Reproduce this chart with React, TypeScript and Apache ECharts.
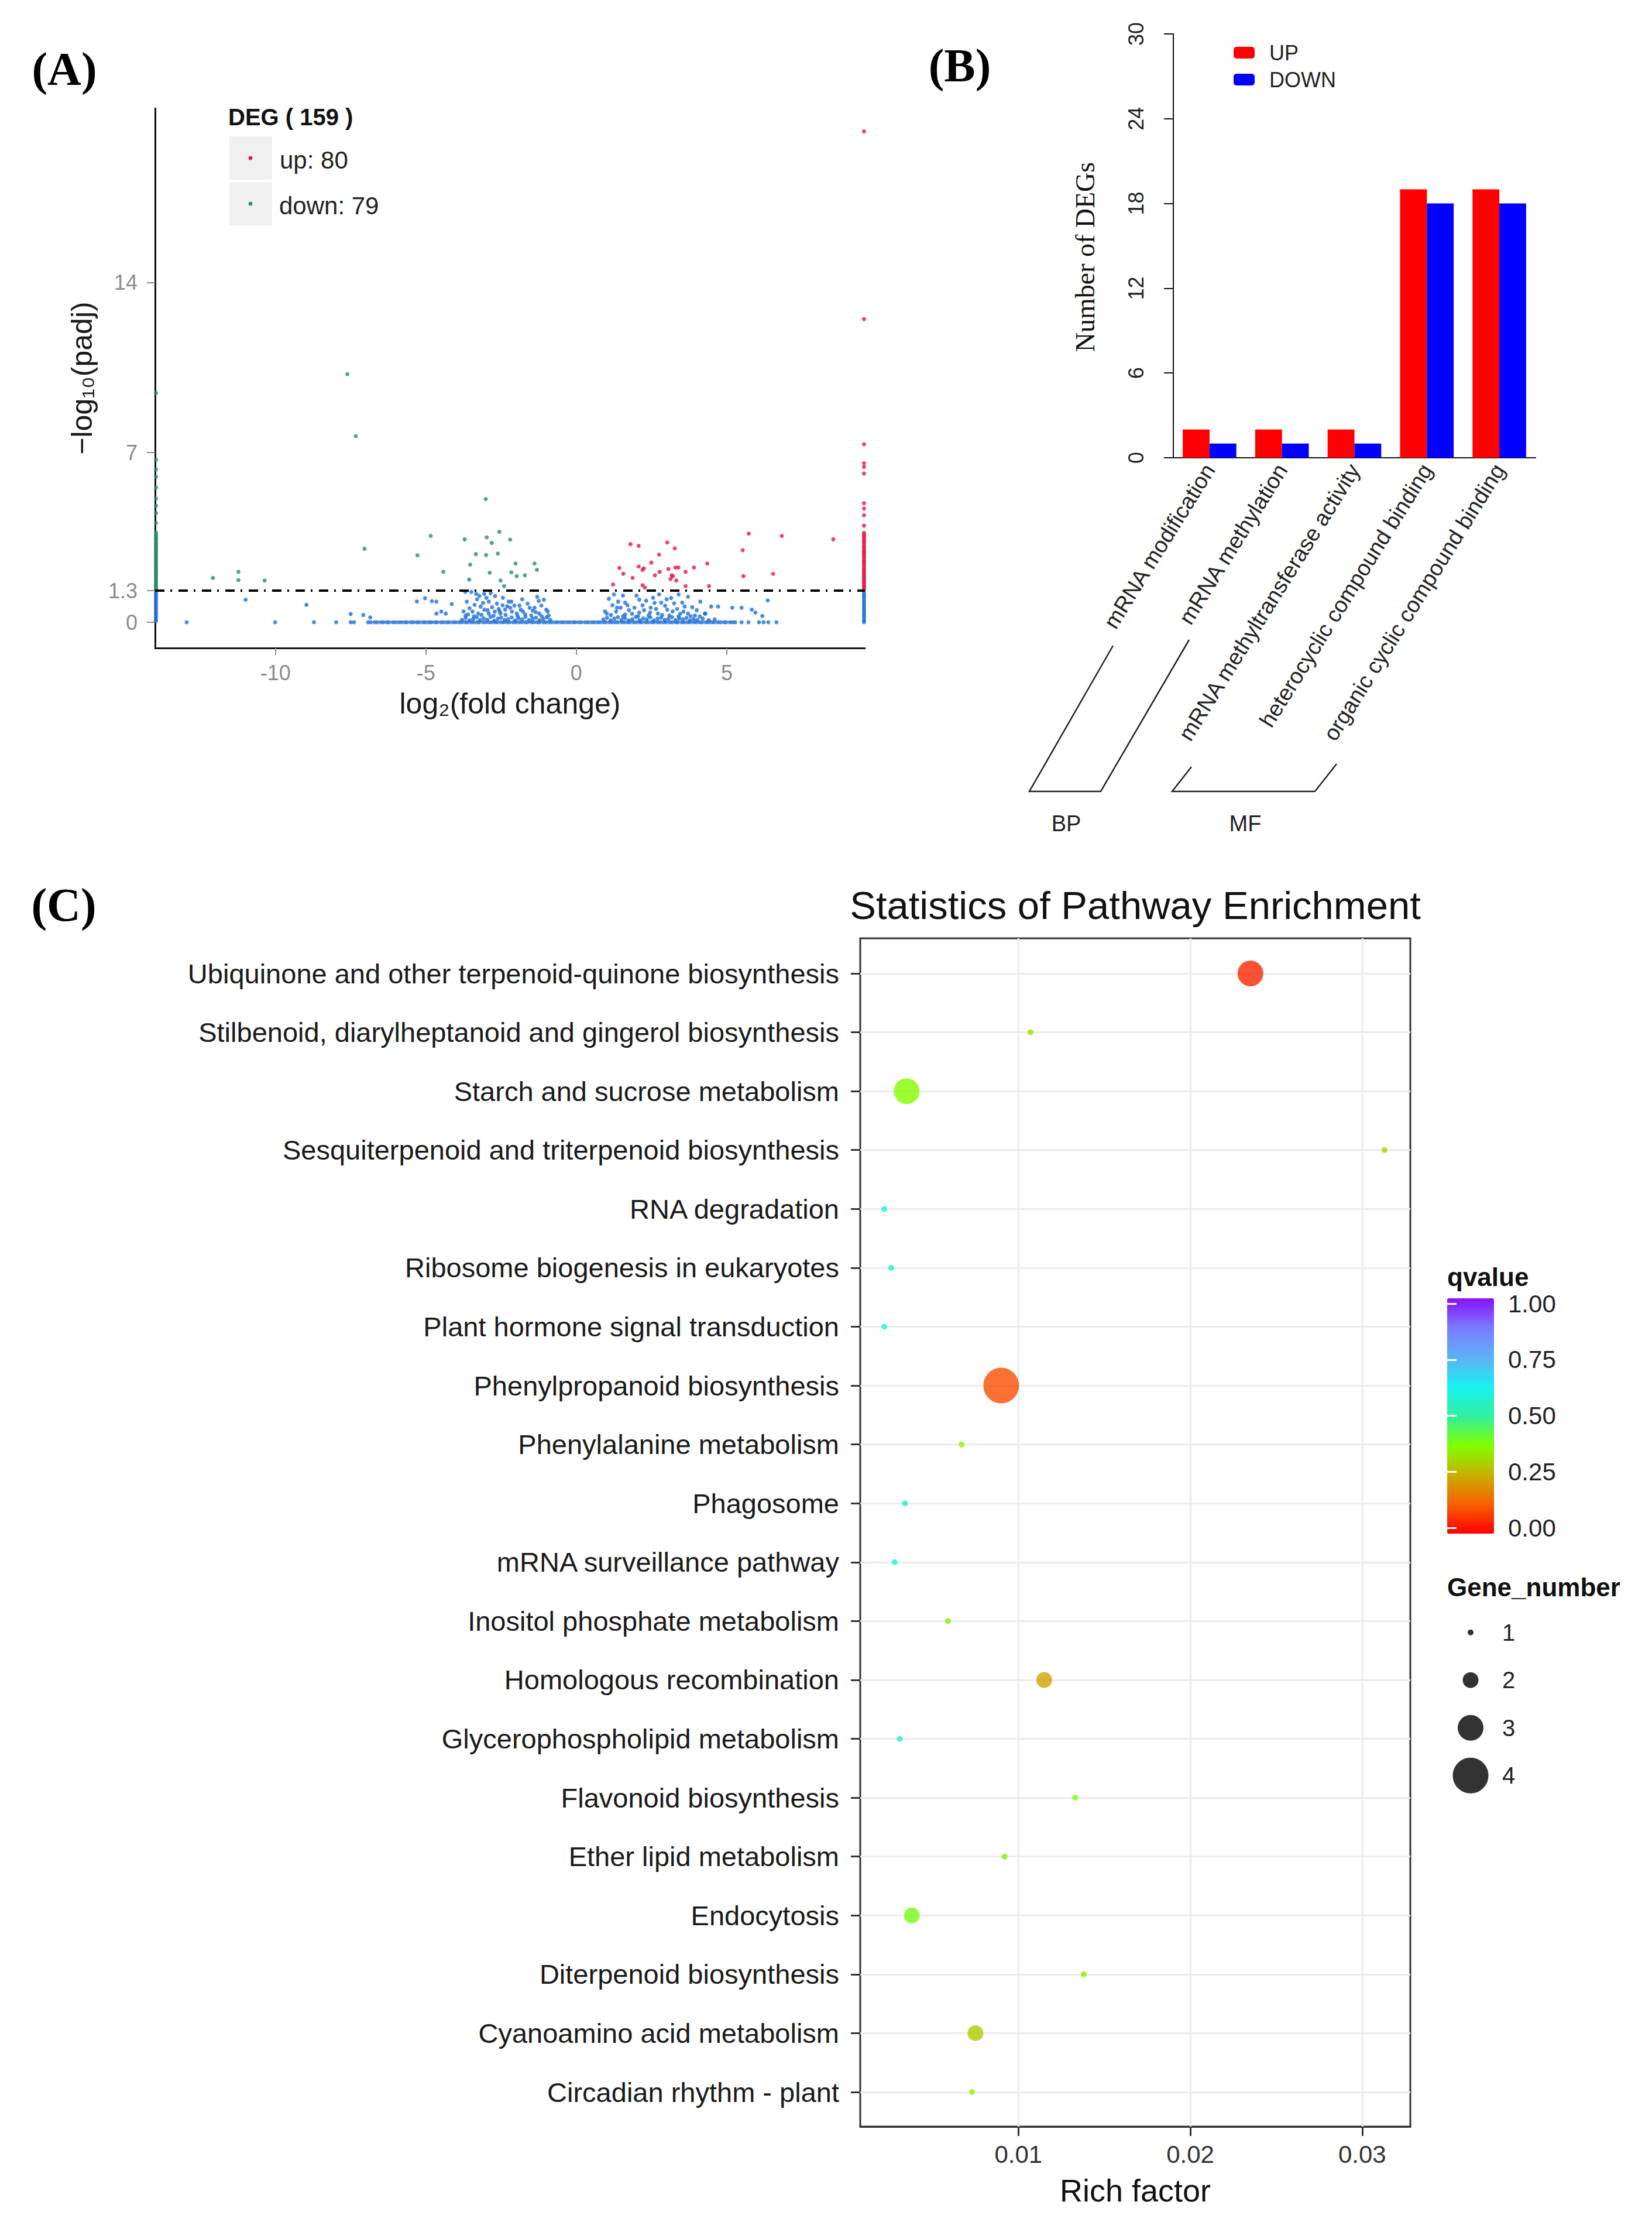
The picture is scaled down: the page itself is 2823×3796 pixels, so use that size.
import React, { useEffect, useRef } from "react";
import * as echarts from "echarts";

const SANS = "'Liberation Sans', Arial, sans-serif";
const SERIF = "'Liberation Serif', 'Times New Roman', serif";

// ---------------- Panel A: volcano plot ----------------
const FC_TICKS = [-10, -5, 0, 5];
const PADJ_TICKS = [0, 1.3, 7, 14];
const PADJ_THRESHOLD = 1.3;
const FC_NEG_INF = -13.97; // genes with -Inf fold change, drawn at the panel edge
const FC_POS_INF = 9.56; // genes with +Inf fold change, drawn at the panel edge

const UP_PTS: number[][] = [
  [1.8, 3.22], [2.07, 3.15], [3.02, 3.29], [3.27, 3.05], [2.75, 2.79], [2.49, 2.46], [1.43, 2.24], [1.56, 2.0],
  [1.87, 1.83], [2.07, 2.3], [2.2, 2.16], [2.24, 2.22], [2.61, 1.94], [2.77, 2.08], [3.06, 2.2], [3.29, 2.26],
  [3.39, 2.26], [3.63, 2.08], [3.91, 2.26], [4.35, 2.42], [3.17, 1.94], [3.13, 1.78], [3.32, 1.72], [3.21, 1.9],
  [1.22, 1.56], [2.2, 1.53], [2.28, 1.43], [3.63, 1.49], [4.41, 1.49], [5.53, 2.97], [5.73, 3.66], [6.83, 3.56],
  [8.54, 3.42], [5.55, 1.9], [6.54, 2.0],
];
const UP_INF_Y = [
  20.24, 12.5, 7.34, 6.56, 6.41, 6.13, 4.91, 4.69, 4.41, 3.98,
  3.69, 3.62, 3.55, 3.49, 3.4, 3.33, 3.27, 3.18, 3.11, 3.05, 2.97, 2.9, 2.84, 2.76, 2.7, 2.63, 2.55, 2.49,
  2.42, 2.36, 2.28, 2.21, 2.15, 2.08, 2.01, 1.95, 1.88, 1.82, 1.75, 1.68, 1.62, 1.55, 1.49, 1.42, 1.36,
];
const DOWN_PTS: number[][] = [
  [-7.61, 10.23], [-7.33, 7.67], [-3.01, 5.08], [-7.04, 3.03], [-4.84, 3.56], [-5.28, 2.76], [-3.71, 3.42],
  [-2.98, 3.5], [-2.56, 3.73], [-2.81, 3.27], [-2.2, 3.41], [-3.34, 2.81], [-3.0, 2.77], [-2.61, 2.83],
  [-3.53, 2.38], [-2.02, 2.42], [-4.42, 2.08], [-2.88, 2.04], [-2.16, 2.06], [-3.56, 1.76], [-2.52, 1.72],
  [-1.98, 1.9], [-12.08, 1.83], [-11.23, 2.08], [-11.23, 1.74], [-10.36, 1.72], [-2.4, 1.49], [-1.39, 2.42],
  [-1.31, 2.16], [-1.71, 1.94],
];
const DOWN_INF_Y = [
  9.45, 6.7, 6.3, 6.0, 5.55, 5.1, 4.8, 4.5, 4.1, 3.7,
  3.62, 3.56, 3.5, 3.44, 3.38, 3.31, 3.25, 3.19, 3.13, 3.07, 3.01, 2.95, 2.89, 2.83, 2.77, 2.71, 2.65, 2.59,
  2.53, 2.47, 2.41, 2.35, 2.29, 2.23, 2.17, 2.11, 2.05, 1.99, 1.93, 1.87, 1.81, 1.75, 1.69, 1.63, 1.57, 1.51,
  1.45, 1.4, 1.35,
];
const NS_PTS: number[][] = [
  [-12.95, 0], [-10.01, 0], [-8.72, 0], [-7.98, 0], [-7.5, 0], [-7.39, 0], [-7.5, 0.34], [-7.08, 0.3], [-6.85, 0.2],
  [-10.99, 0.93], [-8.97, 0.72], [-5.3, 0.86], [-5.03, 0.99], [-4.8, 0.87], [-4.65, 0.85], [-4.14, 0.75],
  [-4.65, 0.36], [-4.49, 0.44], [-4.34, 0.36],
  [5.18, 0.6], [5.49, 0.6], [5.83, 0.52], [5.95, 0.4], [6.18, 0.26], [6.36, 0.9], [4.48, 0.65], [4.71, 0.65],
  [4.12, 0.85], [4.27, 0.36], [5.49, 0], [5.72, 0], [6.07, 0], [6.22, 0], [6.38, 0], [6.65, 0],
  [-3.69, 1.25], [-3.49, 1.25], [-3.33, 1.17], [-3.22, 1.09], [-3.06, 1.17], [-2.99, 1.01], [-3.64, 0.85],
  [-3.18, 0.65], [-2.91, 0.85], [-2.64, 0.77], [-2.44, 1.01], [-2.25, 0.85], [-2.06, 0.69], [-3.68, 0.28],
  [-3.45, 0.44], [-3.26, 0.36], [-3.06, 0.52], [-2.91, 0.36], [-2.71, 0.44], [-2.52, 0.36], [-2.37, 0.52],
  [-2.14, 0.44], [-1.98, 0.36], [-2.16, 0.85], [-1.89, 0.69], [-1.62, 0.77], [-1.39, 0.6], [-1.16, 0.69],
  [-1.0, 0.52], [-1.77, 0.44], [-1.5, 0.28], [-1.23, 0.36], [-0.92, 0.28], [-1.08, 0.93],
  [-3.55, 0.58], [-3.38, 0.72], [-2.8, 0.62], [-2.58, 0.55], [-2.3, 0.66], [-1.85, 0.52], [-1.45, 0.48],
  [-1.25, 0.88], [-3.1, 0.8], [-2.7, 1.08],
  [-3.75, 0.45], [-3.6, 0.32], [-3.4, 0.25], [-3.15, 0.3], [-2.95, 0.5], [-2.75, 0.27], [-2.55, 0.45],
  [-2.35, 0.3], [-2.2, 0.6], [-1.95, 0.25], [-1.7, 0.32], [-1.55, 0.6], [-1.35, 0.42], [-1.15, 0.25],
  [-0.95, 0.45], [-3.3, 0.95], [-2.85, 1.2], [-2.45, 0.7], [-1.8, 0.95], [-1.3, 1.05],
  [-3.8, 0.1], [-3.68, 0.18], [-3.55, 0.08], [-3.43, 0.14], [-3.31, 0.21], [-3.2, 0.09], [-3.08, 0.16],
  [-2.96, 0.11], [-2.85, 0.22], [-2.73, 0.07], [-2.61, 0.15], [-2.5, 0.19], [-2.38, 0.09], [-2.27, 0.13],
  [-2.15, 0.2], [-2.03, 0.08], [-1.92, 0.17], [-1.8, 0.12], [-1.69, 0.22], [-1.57, 0.09], [-1.45, 0.15],
  [-1.34, 0.19], [-1.22, 0.08], [-1.1, 0.14], [-0.98, 0.21], [-0.87, 0.1],
  [1.08, 0.97], [1.39, 0.85], [1.62, 0.81], [2.09, 0.93], [2.32, 0.89], [2.55, 1.01], [2.82, 0.81], [3.25, 0.78],
  [3.52, 0.81], [3.71, 1.05], [1.47, 0.6], [1.93, 0.6], [2.47, 0.6], [3.02, 0.52], [3.56, 0.44], [3.94, 0.28],
  [1.01, 0.36], [1.32, 0.44], [1.62, 0.32], [2.09, 0.4], [2.4, 0.28], [2.71, 0.36], [3.09, 0.28], [3.4, 0.24],
  [3.71, 0.36], [4.29, 0.36], [4.1, 0.24], [1.2, 0.7], [1.75, 0.5], [2.2, 0.7], [2.65, 0.55], [2.95, 0.68],
  [3.35, 0.55], [3.85, 0.62], [1.55, 1.1], [2.75, 1.15], [3.15, 1.0],
  [0.95, 0.45], [1.15, 0.3], [1.35, 0.6], [1.55, 0.25], [1.7, 0.7], [1.85, 0.35], [2.05, 0.25], [2.25, 0.5],
  [2.45, 0.4], [2.6, 0.8], [2.85, 0.3], [3.0, 0.95], [3.2, 0.45], [3.45, 0.35], [3.6, 0.65], [3.8, 0.25],
  [4.0, 0.5], [1.25, 1.15], [2.0, 1.1], [3.4, 1.15],
  [0.9, 0.12], [1.02, 0.19], [1.14, 0.08], [1.26, 0.15], [1.38, 0.21], [1.5, 0.1], [1.62, 0.17], [1.74, 0.08],
  [1.86, 0.13], [1.98, 0.22], [2.1, 0.09], [2.22, 0.16], [2.34, 0.12], [2.46, 0.2], [2.58, 0.08], [2.7, 0.15],
  [2.82, 0.19], [2.94, 0.1], [3.06, 0.14], [3.18, 0.21], [3.3, 0.09], [3.42, 0.16], [3.54, 0.12], [3.66, 0.18],
  [3.78, 0.08], [3.9, 0.13], [4.02, 0.1], [4.2, 0.15], [4.4, 0.09], [4.6, 0.12],
];
const NS_BAND_X = [
  -6.92, -6.83, -6.71, -6.62, -6.5, -6.41, -6.3, -6.22, -6.1, -6.01, -5.9, -5.81, -5.7, -5.62, -5.5, -5.41,
  -5.3, -5.22, -5.1, -5.01, -4.9, -4.81, -4.7, -4.62, -4.5, -4.41, -4.3, -4.22, -4.1, -4.01, -3.9, -3.81,
  -3.7, -3.62, -3.5, -3.41, -3.3, -3.22, -3.1, -3.01, -2.9, -2.81, -2.7, -2.62, -2.5, -2.41, -2.3, -2.22,
  -2.1, -2.01, -1.9, -1.81, -1.7, -1.62, -1.5, -1.41, -1.3, -1.22, -1.1, -1.01, -0.9, -0.81, -0.7, -0.61,
  -0.5, -0.41, -0.3, -0.21, -0.1, -0.02, 0.09, 0.18, 0.3, 0.39, 0.5, 0.59, 0.7, 0.79, 0.9, 0.98, 1.1, 1.19,
  1.3, 1.38, 1.5, 1.59, 1.7, 1.78, 1.9, 1.99, 2.1, 2.18, 2.3, 2.39, 2.5, 2.58, 2.7, 2.79, 2.9, 2.98, 3.1,
  3.19, 3.3, 3.38, 3.5, 3.59, 3.7, 3.78, 3.9, 3.99, 4.1, 4.18, 4.3, 4.39, 4.5, 4.58, 4.7, 4.79, 4.9, 4.98,
  5.1, 5.19, 5.28,
];
const NS_NEG_INF_Y = [1.22, 1.13, 1.05, 0.96, 0.88, 0.8, 0.71, 0.63, 0.55, 0.46, 0.38, 0.3, 0.21, 0.13, 0.05];
const NS_POS_INF_Y = [1.24, 1.15, 1.07, 0.99, 0.9, 0.82, 0.74, 0.65, 0.57, 0.49, 0.4, 0.32, 0.24, 0.15, 0.07, 0.0];

// ---------------- Panel B: GO bar chart ----------------
const GO_TERMS = [
  "mRNA modification",
  "mRNA methylation",
  "mRNA methyltransferase activity",
  "heterocyclic compound binding",
  "organic cyclic compound binding",
];
const GO_UP = [2, 2, 2, 19, 19];
const GO_DOWN = [1, 1, 1, 18, 18];
const DEG_TICK_STEP = 6;
const DEG_MAX = 30;

// ---------------- Panel C: KEGG enrichment ----------------
const PATHWAYS = [
  "Ubiquinone and other terpenoid-quinone biosynthesis",
  "Stilbenoid, diarylheptanoid and gingerol biosynthesis",
  "Starch and sucrose metabolism",
  "Sesquiterpenoid and triterpenoid biosynthesis",
  "RNA degradation",
  "Ribosome biogenesis in eukaryotes",
  "Plant hormone signal transduction",
  "Phenylpropanoid biosynthesis",
  "Phenylalanine metabolism",
  "Phagosome",
  "mRNA surveillance pathway",
  "Inositol phosphate metabolism",
  "Homologous recombination",
  "Glycerophospholipid metabolism",
  "Flavonoid biosynthesis",
  "Ether lipid metabolism",
  "Endocytosis",
  "Diterpenoid biosynthesis",
  "Cyanoamino acid metabolism",
  "Circadian rhythm - plant",
];
const RICH_FACTOR = [
  0.0235, 0.0107, 0.0035, 0.0313, 0.0022, 0.0026, 0.0022, 0.009, 0.0067, 0.0034,
  0.0028, 0.0059, 0.0115, 0.0031, 0.0133, 0.0092, 0.0038, 0.0138, 0.0075, 0.0073,
];
const QVALUE = [
  0.05, 0.33, 0.37, 0.31, 0.58, 0.55, 0.58, 0.1, 0.36, 0.58,
  0.6, 0.35, 0.23, 0.56, 0.36, 0.35, 0.39, 0.34, 0.29, 0.36,
];
const GENE_NUMBER = [3, 1, 3, 1, 1, 1, 1, 4, 1, 1, 1, 1, 2, 1, 1, 1, 2, 1, 2, 1];
const RICH_TICKS = [0.01, 0.02, 0.03];
const RICH_MINOR = [0.005, 0.015, 0.025];
const GENE_LEVELS = [1, 2, 3, 4];
const Q_TICK_STEP = 0.25;

const Q_COLORS = ["#ff0000", "#f86000", "#c8b000", "#80ff00", "#30f0a0", "#18f0f0", "#60b0f8", "#7a7cff", "#8a10ff"];
const geneSize = (n: number) => 10 + (n - 1) * 17;

export default function App() {
  const ref = useRef<HTMLDivElement>(null);

  useEffect(() => {
    if (!ref.current) return;
    const chart = echarts.init(ref.current, null, { renderer: "svg" });

    const nsData = [
      ...NS_PTS,
      ...NS_BAND_X.map((x) => [x, 0]),
      ...NS_NEG_INF_Y.map((y) => [FC_NEG_INF, y]),
      ...NS_POS_INF_Y.map((y) => [FC_POS_INF, y]),
    ];
    const downData = [...DOWN_PTS, ...DOWN_INF_Y.map((y) => [FC_NEG_INF, y])];
    const upData = [...UP_PTS, ...UP_INF_Y.map((y) => [FC_POS_INF, y])];
    const nUp = upData.length;
    const nDown = downData.length;

    const greyAxisText = { color: "#8c8c8c", fontSize: 36, fontFamily: SANS };

    const option: any = {
      animation: false,
      backgroundColor: "#ffffff",
      textStyle: { fontFamily: SANS },
      grid: [
        { left: 265, top: 185, width: 1213, height: 922 },
        { left: 2005, top: 58, width: 619, height: 724 },
        { left: 1470, top: 1663, width: 940, height: 1911 },
        { left: 1470, top: 1603, width: 940, height: 2030, show: true, borderColor: "#333333", borderWidth: 3, backgroundColor: "transparent" },
        { left: 2473, top: 2227, width: 80, height: 383 },
        { left: 2473, top: 2748, width: 80, height: 326 },
      ],
      xAxis: [
        {
          gridIndex: 0, type: "value", min: -14.0, max: 9.59,
          axisLine: { onZero: false, lineStyle: { color: "#111", width: 3 } },
          axisTick: { customValues: FC_TICKS, length: 12, lineStyle: { color: "#8c8c8c", width: 2 } },
          axisLabel: { customValues: FC_TICKS, margin: 24, ...greyAxisText },
          splitLine: { show: false },
          name: "log\u2082(fold change)", nameLocation: "middle", nameGap: 70,
          nameTextStyle: { fontSize: 50, color: "#1a1a1a", fontFamily: SANS },
        },
        {
          gridIndex: 1, type: "category", data: GO_TERMS,
          axisLine: { lineStyle: { color: "#111", width: 2 } },
          axisTick: { length: 18, lineStyle: { color: "#111", width: 2 } },
          axisLabel: { rotate: 58, interval: 0, fontSize: 38, color: "#222", margin: 14, fontFamily: SANS },
          splitLine: { show: false },
        },
        { gridIndex: 2, type: "value", min: 0.0008, max: 0.0328, show: false },
        {
          gridIndex: 3, type: "value", min: 0.0008, max: 0.0328,
          axisLine: { onZero: false, lineStyle: { color: "#333", width: 3 } },
          axisTick: { customValues: RICH_TICKS, length: 16, lineStyle: { color: "#333", width: 3 } },
          axisLabel: { customValues: RICH_TICKS, formatter: (v: number) => v.toFixed(2), fontSize: 42, color: "#333", margin: 26, fontFamily: SANS },
          splitLine: { show: false },
          name: "Rich factor", nameLocation: "middle", nameGap: 82,
          nameTextStyle: { fontSize: 54, color: "#111", fontFamily: SANS },
        },
        { gridIndex: 4, type: "value", min: 0, max: 1, show: false },
        { gridIndex: 5, type: "value", min: -1, max: 1, show: false },
      ],
      yAxis: [
        {
          gridIndex: 0, type: "value", min: -1.06, max: 21.19,
          axisLine: { show: true, onZero: false, lineStyle: { color: "#111", width: 3 } },
          axisTick: { show: true, customValues: PADJ_TICKS, length: 14, lineStyle: { color: "#8c8c8c", width: 2 } },
          axisLabel: { customValues: PADJ_TICKS, margin: 30, ...greyAxisText },
          splitLine: { show: false },
          name: "\u2212log\u2081\u2080(padj)", nameLocation: "middle", nameGap: 100,
          nameTextStyle: { fontSize: 50, color: "#1a1a1a", fontFamily: SANS },
        },
        {
          gridIndex: 1, type: "value", min: 0, max: DEG_MAX, interval: DEG_TICK_STEP,
          axisLine: { show: true, lineStyle: { color: "#111", width: 2 } },
          axisTick: { show: true, length: 16, lineStyle: { color: "#111", width: 2 } },
          axisLabel: { rotate: 90, fontSize: 36, color: "#222", margin: 46, fontFamily: SANS },
          splitLine: { show: false },
          name: "Number of DEGs", nameLocation: "middle", nameGap: 128,
          nameTextStyle: { fontSize: 46, color: "#111", fontFamily: SERIF, padding: [0, 38, 0, 0] },
        },
        {
          gridIndex: 2, type: "value", min: 0, max: PATHWAYS.length - 1, interval: 1, inverse: true,
          axisLine: { show: false },
          axisTick: { show: true, length: 16, lineStyle: { color: "#333", width: 3 } },
          axisLabel: { formatter: (v: number) => PATHWAYS[v] ?? "", fontSize: 47, color: "#1a1a1a", margin: 36, fontFamily: SANS },
          splitLine: { show: true, lineStyle: { color: "#ebebeb", width: 3 } },
        },
        { gridIndex: 3, type: "value", min: 0, max: 1, show: false },
        {
          gridIndex: 4, type: "value", min: 0, max: 1, interval: Q_TICK_STEP, position: "right", z: 10,
          axisLine: { show: false },
          axisTick: { show: true, inside: true, length: 16, lineStyle: { color: "#ffffff", width: 3 } },
          axisLabel: { formatter: (v: number) => v.toFixed(2), fontSize: 42, color: "#222", margin: 24, fontFamily: SANS },
          splitLine: { show: false },
        },
        {
          gridIndex: 4, type: "value", min: 0, max: 1, interval: Q_TICK_STEP, position: "left", z: 10,
          axisLine: { show: false },
          axisTick: { show: true, inside: true, length: 16, lineStyle: { color: "#ffffff", width: 3 } },
          axisLabel: { show: false },
          splitLine: { show: false },
        },
        {
          gridIndex: 5, type: "category", data: GENE_LEVELS.map(String), inverse: true, position: "right",
          axisLine: { show: false }, axisTick: { show: false },
          axisLabel: { fontSize: 40, color: "#222", margin: 14, fontFamily: SANS },
          splitLine: { show: false },
        },
      ],
      visualMap: [
        {
          type: "continuous", seriesIndex: 6, dimension: 2, min: 0, max: 1,
          inRange: { color: Q_COLORS },
          orient: "vertical", left: 2473, top: 2218, itemWidth: 80, itemHeight: 402,
          padding: 0, calculable: false, realtime: false, hoverLink: false,
          text: null, showLabel: false,
        },
      ],
      legend: {
        data: ["UP", "DOWN"], orient: "vertical", left: 2103, top: 67,
        itemWidth: 36, itemHeight: 20, itemGap: 10, icon: "roundRect",
        textStyle: { fontSize: 36, color: "#222", lineHeight: 36, padding: [0, 0, 0, 20], fontFamily: SANS },
        selectedMode: false,
      },
      series: [
        {
          name: "ns", type: "scatter", xAxisIndex: 0, yAxisIndex: 0, data: nsData,
          symbolSize: 7, itemStyle: { color: "#1f6fd6" }, silent: true,
          markLine: {
            silent: true, symbol: ["none", "none"], label: { show: false },
            lineStyle: { color: "#000", width: 4, type: [16, 10, 3, 11] },
            data: [{ yAxis: PADJ_THRESHOLD }],
          },
        },
        { name: "down", type: "scatter", xAxisIndex: 0, yAxisIndex: 0, data: downData, symbolSize: 7, itemStyle: { color: "#2e8b6b" }, silent: true },
        { name: "up", type: "scatter", xAxisIndex: 0, yAxisIndex: 0, data: upData, symbolSize: 7, itemStyle: { color: "#e8174b" }, silent: true },
        { name: "UP", type: "bar", xAxisIndex: 1, yAxisIndex: 1, data: GO_UP, itemStyle: { color: "#ff0000" }, barGap: "0%", barCategoryGap: "26%", silent: true },
        { name: "DOWN", type: "bar", xAxisIndex: 1, yAxisIndex: 1, data: GO_DOWN, itemStyle: { color: "#0000ff" }, barGap: "0%", barCategoryGap: "26%", silent: true },
        {
          name: "grid", type: "scatter", xAxisIndex: 3, yAxisIndex: 3, data: [], z: 1, silent: true,
          markLine: {
            silent: true, z: 1, symbol: ["none", "none"], label: { show: false }, animation: false,
            data: [
              ...RICH_MINOR.map((v) => ({ xAxis: v, lineStyle: { color: "#f2f2f2", width: 2, type: "solid" } })),
              ...RICH_TICKS.map((v) => ({ xAxis: v, lineStyle: { color: "#ebebeb", width: 3, type: "solid" } })),
            ],
          },
        },
        {
          name: "pathway", type: "scatter", xAxisIndex: 2, yAxisIndex: 2, z: 10, silent: true,
          data: PATHWAYS.map((_, i) => [RICH_FACTOR[i], i, QVALUE[i], GENE_NUMBER[i]]),
          symbolSize: (v: number[]) => geneSize(v[3]),
        },
        {
          name: "geneLegend", type: "scatter", xAxisIndex: 5, yAxisIndex: 6, silent: true,
          data: GENE_LEVELS.map((g, i) => [0, i, g]),
          symbolSize: (v: number[]) => geneSize(v[2]),
          itemStyle: { color: "#000" },
        },
      ],
      graphic: [
        { type: "text", x: 110, y: 118, style: { text: "(A)", fontSize: 80, fontWeight: "bold", fontFamily: SERIF, fill: "#000", align: "center", verticalAlign: "middle" } },
        { type: "text", x: 1640, y: 112, style: { text: "(B)", fontSize: 80, fontWeight: "bold", fontFamily: SERIF, fill: "#000", align: "center", verticalAlign: "middle" } },
        { type: "text", x: 109, y: 1546, style: { text: "(C)", fontSize: 80, fontWeight: "bold", fontFamily: SERIF, fill: "#000", align: "center", verticalAlign: "middle" } },
        // Panel A legend
        { type: "text", x: 390, y: 200, style: { text: `DEG ( ${nUp + nDown} )`, fontSize: 40, fontWeight: "bold", fontFamily: SANS, fill: "#111", align: "left", verticalAlign: "middle" } },
        { type: "rect", shape: { x: 392, y: 233, width: 73, height: 74 }, style: { fill: "#f0f0f0" } },
        { type: "rect", shape: { x: 392, y: 311, width: 73, height: 74 }, style: { fill: "#f0f0f0" } },
        { type: "circle", shape: { cx: 428, cy: 270, r: 3.5 }, style: { fill: "#e8174b" } },
        { type: "circle", shape: { cx: 428, cy: 348, r: 3.5 }, style: { fill: "#2e8b6b" } },
        { type: "text", x: 478, y: 273, style: { text: `up: ${nUp}`, fontSize: 42, fontFamily: SANS, fill: "#222", align: "left", verticalAlign: "middle" } },
        { type: "text", x: 477, y: 351, style: { text: `down: ${nDown}`, fontSize: 42, fontFamily: SANS, fill: "#222", align: "left", verticalAlign: "middle" } },
        // Panel B ontology brackets
        { type: "polyline", shape: { points: [[1902, 1103], [1759, 1352], [1881, 1352], [2032, 1093]] }, style: { stroke: "#222", lineWidth: 2.5, fill: "none" } },
        { type: "polyline", shape: { points: [[2036, 1310], [2003, 1352], [2247, 1352], [2284, 1305]] }, style: { stroke: "#222", lineWidth: 2.5, fill: "none" } },
        { type: "text", x: 1822, y: 1407, style: { text: "BP", fontSize: 38, fontFamily: SANS, fill: "#222", align: "center", verticalAlign: "middle" } },
        { type: "text", x: 2128, y: 1407, style: { text: "MF", fontSize: 38, fontFamily: SANS, fill: "#222", align: "center", verticalAlign: "middle" } },
        // Panel C title and legend titles
        { type: "text", x: 1940, y: 1546, style: { text: "Statistics of Pathway Enrichment", fontSize: 67, fontFamily: SANS, fill: "#111", align: "center", verticalAlign: "middle" } },
        { type: "text", x: 2473, y: 2181, style: { text: "qvalue", fontSize: 44, fontWeight: "bold", fontFamily: SANS, fill: "#111", align: "left", verticalAlign: "middle" } },
        { type: "text", x: 2473, y: 2711, style: { text: "Gene_number", fontSize: 44, fontWeight: "bold", fontFamily: SANS, fill: "#111", align: "left", verticalAlign: "middle" } },
      ],
    };

    chart.setOption(option);
    return () => chart.dispose();
  }, []);

  return (
    <div
      ref={ref}
      style={{ position: "absolute", left: 0, top: 0, width: 2823, height: 3796, background: "#fff" }}
    />
  );
}
